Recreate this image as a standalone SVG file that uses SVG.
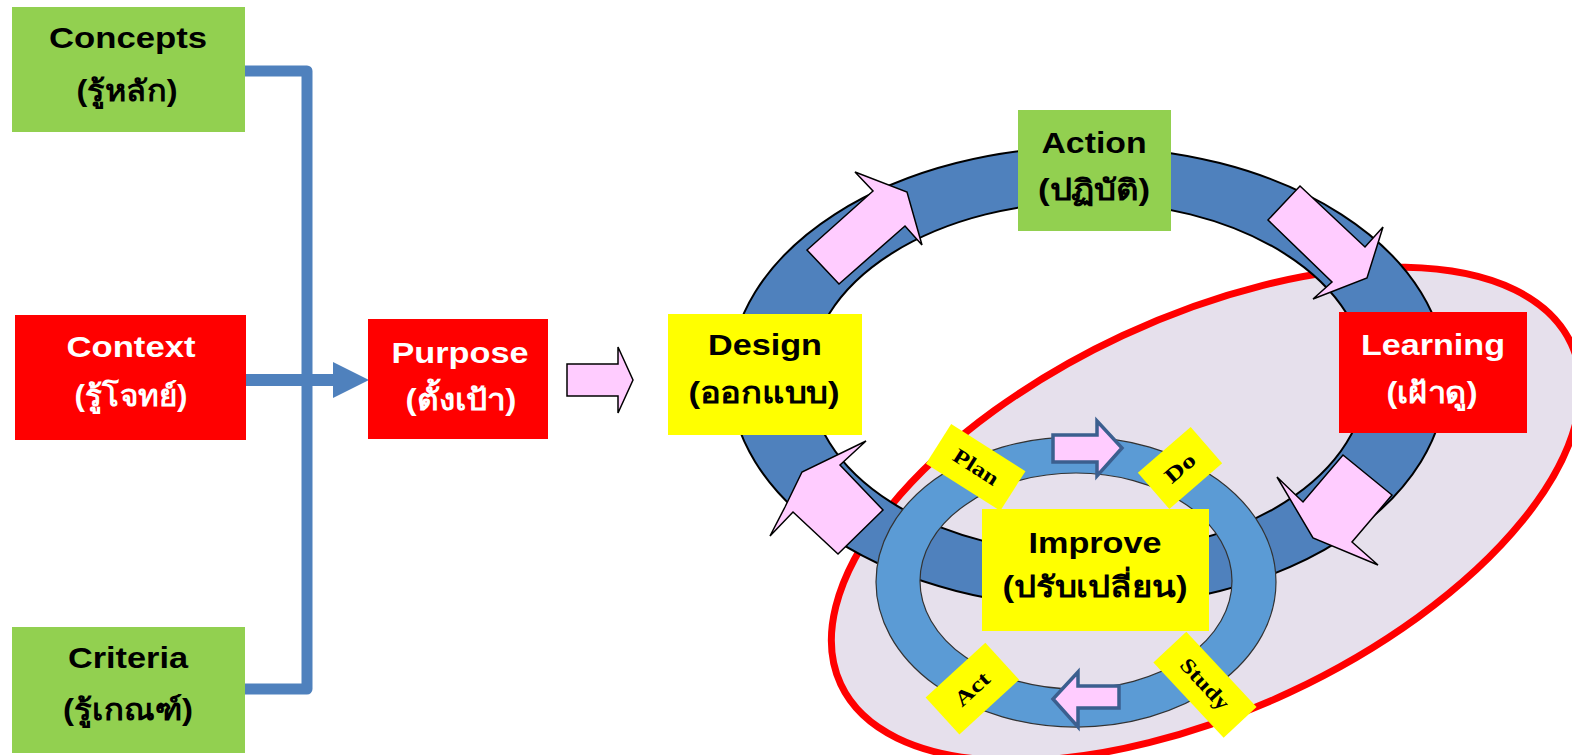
<svg xmlns="http://www.w3.org/2000/svg" width="1572" height="755" viewBox="0 0 1572 755">
<style>
.en{font-family:"Liberation Sans",Arial,sans-serif;font-weight:bold;font-size:30px;text-anchor:middle}
.th{font-family:"Liberation Sans","Noto Sans","DejaVu Sans",sans-serif;font-weight:bold;font-size:29px;text-anchor:middle}
.blk{fill:#000}
.wht{fill:#fff}
.green{fill:#92D050}
.red{fill:#FF0000}
.yel{fill:#FFFF00}
.pink{fill:#FFCCFF;stroke:#000;stroke-width:1.5;stroke-linejoin:miter}
.pink2{fill:#FFCCFF;stroke:#3B5F8F;stroke-width:3.5}
.lbl{font-family:"Liberation Serif","Times New Roman",serif;font-weight:bold;font-size:21px;text-anchor:middle;fill:#000}
</style>
<rect width="1572" height="755" fill="#fff"/>

<!-- background shapes -->
<g id="improve-zone">
<ellipse cx="1206" cy="514" rx="403" ry="197" transform="rotate(-25 1206 514)" fill="#E6E0EC" stroke="#FF0000" stroke-width="7"/>
</g>
<g id="big-ring">
<path d="M730,377 a358,230 0 1,0 716,0 a358,230 0 1,0 -716,0 Z M810,378 a278,176 0 1,0 556,0 a278,176 0 1,0 -556,0 Z" fill-rule="evenodd" fill="#4F81BD" stroke="#000" stroke-width="2"/>
</g>
<g id="small-ring">
<path d="M876,582 a200,145 0 1,0 400,0 a200,145 0 1,0 -400,0 Z M920,581 a156,108 0 1,0 312,0 a156,108 0 1,0 -312,0 Z" fill-rule="evenodd" fill="#5B9BD5" stroke="#333" stroke-width="1.2"/>
</g>

<!-- connectors -->
<g id="connectors">
<path d="M245,71 H307 V689 H245" fill="none" stroke="#4F81BD" stroke-width="11" stroke-linejoin="round"/>
<path d="M246,380 H336" fill="none" stroke="#4F81BD" stroke-width="12"/>
<polygon points="333,362 369,380 333,398" fill="#4F81BD"/>
<polygon class="pink" points="567,364 618,364 618,347 633,380 618,413 618,396 567,396"/>
<polygon class="pink" points="807,250 873,191 855,172 907,192 922,245 905,226 839,284"/>
<polygon class="pink" points="1300,186 1365,247 1383,227 1367,278 1313,299 1332,282 1268,220"/>
<polygon class="pink" points="1343,455 1392,495 1352,542 1378,565 1313,538 1277,477 1303,502"/>
<polygon class="pink" points="883,510 838,554 793,512 770,536 785,507 802,472 866,441 840,465"/>
<polygon class="pink2" points="1053,435 1097,435 1097,421 1122,448 1097,476 1097,462 1053,462"/>
<polygon class="pink2" points="1119,686 1078,686 1078,672 1053,699 1078,727 1078,708 1119,708"/>
</g>

<!-- nodes -->
<g id="concepts">
<rect class="green" x="12" y="7" width="233" height="125"/>
<text class="en blk" x="128" y="48" textLength="158" lengthAdjust="spacingAndGlyphs">Concepts</text>
<text class="th blk" x="127" y="101" textLength="101" lengthAdjust="spacingAndGlyphs">(รู้หลัก)</text>
</g>
<g id="context">
<rect class="red" x="15" y="315" width="231" height="125"/>
<text class="en wht" x="131" y="357" textLength="129" lengthAdjust="spacingAndGlyphs">Context</text>
<text class="th wht" x="131" y="406" textLength="113" lengthAdjust="spacingAndGlyphs">(รู้โจทย์)</text>
</g>
<g id="criteria">
<rect class="green" x="12" y="627" width="233" height="126"/>
<text class="en blk" x="128" y="668" textLength="120" lengthAdjust="spacingAndGlyphs">Criteria</text>
<text class="th blk" x="128" y="720" textLength="130" lengthAdjust="spacingAndGlyphs">(รู้เกณฑ์)</text>
</g>
<g id="purpose">
<rect class="red" x="368" y="319" width="180" height="120"/>
<text class="en wht" x="460" y="363" textLength="137" lengthAdjust="spacingAndGlyphs">Purpose</text>
<text class="th wht" x="461" y="410" textLength="111" lengthAdjust="spacingAndGlyphs">(ตั้งเป้า)</text>
</g>
<g id="design">
<rect class="yel" x="668" y="314" width="194" height="121"/>
<text class="en blk" x="765" y="355" textLength="114" lengthAdjust="spacingAndGlyphs">Design</text>
<text class="th blk" x="764" y="403" textLength="151" lengthAdjust="spacingAndGlyphs">(ออกแบบ)</text>
</g>
<g id="action">
<rect class="green" x="1018" y="110" width="153" height="121"/>
<text class="en blk" x="1094" y="153" textLength="105" lengthAdjust="spacingAndGlyphs">Action</text>
<text class="th blk" x="1094" y="200" textLength="112" lengthAdjust="spacingAndGlyphs">(ปฏิบัติ)</text>
</g>
<g id="learning">
<rect class="red" x="1339" y="312" width="188" height="121"/>
<text class="en wht" x="1433" y="355" textLength="144" lengthAdjust="spacingAndGlyphs">Learning</text>
<text class="th wht" x="1432" y="403" textLength="91" lengthAdjust="spacingAndGlyphs">(เฝ้าดู)</text>
</g>
<g id="improve">
<rect class="yel" x="982" y="509" width="227" height="122"/>
<text class="en blk" x="1095" y="553" textLength="133" lengthAdjust="spacingAndGlyphs">Improve</text>
<text class="th blk" x="1095" y="597" textLength="185" lengthAdjust="spacingAndGlyphs">(ปรับเปลี่ยน)</text>
</g>
<g id="plan" transform="translate(976,467) rotate(32.4)">
<rect class="yel" x="-44" y="-23" width="88" height="47"/>
<text class="lbl" x="0" y="7" textLength="50" lengthAdjust="spacingAndGlyphs">Plan</text>
</g>
<g id="do" transform="translate(1180,468) rotate(-41)">
<rect class="yel" x="-35" y="-24" width="70" height="48"/>
<text class="lbl" x="0" y="7" textLength="34" lengthAdjust="spacingAndGlyphs">Do</text>
</g>
<g id="act" transform="translate(972,689) rotate(-42.5)">
<rect class="yel" x="-40" y="-25" width="81" height="50"/>
<text class="lbl" x="0" y="7" textLength="40" lengthAdjust="spacingAndGlyphs">Act</text>
</g>
<g id="study" transform="translate(1205,684) rotate(47)">
<rect class="yel" x="-51" y="-22" width="103" height="45"/>
<text class="lbl" x="0" y="7" textLength="62" lengthAdjust="spacingAndGlyphs">Study</text>
</g>
</svg>
